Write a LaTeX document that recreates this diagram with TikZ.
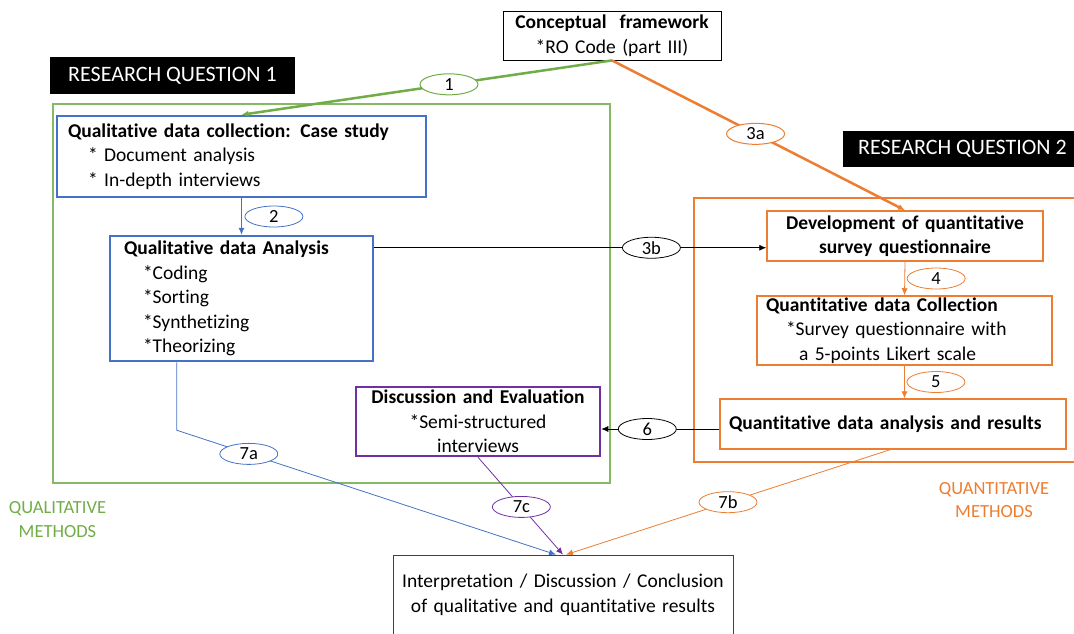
\documentclass[tikz,border=0pt]{standalone}
\usepackage{fontspec}
\setmainfont{Carlito}[Ligatures=NoCommon]
\usetikzlibrary{shapes.geometric,arrows.meta}

\definecolor{qlgreen}{HTML}{70AD47}
\definecolor{qlblue}{HTML}{4472C4}
\definecolor{qnorange}{HTML}{ED7D31}
\definecolor{dpurple}{HTML}{7030A0}

\tikzset{
  qbox/.style={draw, rectangle, inner sep=0pt, align=left,
    font=\fontsize{19.5}{24.5}\selectfont},
  rqbox/.style={fill=black, text=white, inner sep=0pt,
    font=\fontsize{22}{24}\selectfont},
  tag/.style={ellipse, draw, fill=white, minimum width=58pt,
    minimum height=21pt, inner sep=0pt, font=\fontsize{18.5}{20}\selectfont},
  arr/.style={-{Latex[length=7pt,width=6pt]}},
}

\begin{document}
\begin{tikzpicture}[x=1pt, y=-1pt]
    \useasboundingbox (0,0) rectangle (1074,633);

    % Method frames
    \draw[qlgreen!85, line width=1.5pt] (53,104) rectangle (610,483);
    \draw[qnorange, line width=1.5pt] (694,198) rectangle (1085,462);

    % Research questions
    \node[rqbox, minimum width=245pt, minimum height=37pt] (rq1) at (172.5,75.5) {RESEARCH QUESTION 1};
    \node[rqbox, minimum width=239pt, minimum height=36pt] (rq2) at (962.5,149) {RESEARCH QUESTION 2};

    % Framework
    \node[qbox, line width=0.8pt, align=center, text width=218pt, minimum height=49pt] (cf) at (612,35.5)
        {\textbf{Conceptual\ \ framework}\\{}*RO Code (part III)};

    % Qualitative side
    \node[qbox, draw=qlblue, line width=2.5pt, text width=369pt, minimum height=81pt] (coll) at (241.5,156.5)
        {\hspace*{11pt}\textbf{Qualitative data collection: Case study}\\
         \hspace*{31pt}* Document analysis\\
         \hspace*{31pt}* In-depth interviews};
    \node[qbox, draw=qlblue, line width=2.5pt, text width=263pt, minimum height=125pt] (ana) at (241.5,298.5)
        {\hspace*{14pt}\textbf{Qualitative data Analysis}\\
         \hspace*{33pt}*Coding\\
         \hspace*{33pt}*Sorting\\
         \hspace*{33pt}*Synthetizing\\
         \hspace*{33pt}*Theorizing};
    \node[qbox, draw=dpurple, line width=2.5pt, align=center, text width=244pt, minimum height=69pt] (disc) at (478,421.5)
        {\textbf{Discussion and Evaluation}\\{}*Semi-structured\\interviews};

    % Quantitative side
    \node[qbox, draw=qnorange, line width=1.5pt, align=center, text width=276pt, minimum height=50pt] (dev) at (905,236)
        {\textbf{Development of quantitative}\\\textbf{survey questionnaire}};
    \node[qbox, draw=qnorange, line width=1.5pt, text width=295pt, minimum height=69pt] (qdc) at (904.5,330.5)
        {\hspace*{9pt}\textbf{Quantitative data Collection}\\
         \hspace*{29pt}*Survey questionnaire with\\
         \hspace*{42pt}a 5-points Likert scale};
    \node[qbox, draw=qnorange, line width=1.5pt, text width=346pt, minimum height=50pt] (qan) at (893,424)
        {\hspace*{9pt}\textbf{Quantitative data analysis and results}};

    % Final results
    \node[qbox, draw=black!75, line width=0.8pt, align=center, text width=340pt, minimum height=80pt] (fin) at (563,595)
        {Interpretation / Discussion / Conclusion\\of qualitative and quantitative results};

    % Method labels
    \node[qlgreen, align=center, font=\fontsize{18.5}{23.5}\selectfont] (qlm) at (57.5,519.5) {QUALITATIVE\\METHODS};
    \node[qnorange, align=center, font=\fontsize{18.5}{23.5}\selectfont] (qnm) at (994,500) {QUANTITATIVE\\METHODS};

    % Connectors
    \draw[arr, qlgreen, line width=2.5pt] (cf.south) -- (coll.north)
        node[tag, draw=qlgreen, text=black, line width=1pt, pos=0.44] {1};
    \draw[arr, qnorange, line width=2.5pt] (cf.south) -- (dev.north)
        node[tag, draw=qnorange, text=black, line width=1pt, pos=0.49] {3a};
    \draw[arr, qlblue, line width=0.8pt] (coll.south) -- (ana.north)
        node[tag, draw=qlblue, text=black, anchor=west, xshift=3pt, midway] {2};
    \draw[arr, line width=0.8pt] ([yshift=-13pt]ana.north east) -- ([yshift=-13pt]ana.north east -| dev.west)
        node[tag, pos=0.707] {3b};
    \draw[arr, qnorange, line width=0.8pt] (dev.south) -- (qdc.north)
        node[tag, draw=qnorange, text=black, anchor=west, xshift=2pt, midway] {4};
    \draw[arr, qnorange, line width=0.8pt] (qdc.south) -- (qdc.south |- qan.north)
        node[tag, draw=qnorange, text=black, anchor=west, xshift=2pt, midway] {5};
    \draw[arr, line width=0.8pt] ([yshift=-5pt]qan.west) -- ([yshift=-5pt]qan.west -| disc.east)
        node[tag, pos=0.61] {6};
    \draw[arr, qlblue, line width=0.8pt] ([xshift=68pt]ana.south west) -- ++(0,68)
        -- ([xshift=-7pt]fin.north)
        node[tag, draw=qlblue, text=black, pos=0.19] {7a};
    \draw[arr, dpurple, line width=0.8pt] (disc.south) -- (fin.north)
        node[tag, draw=dpurple, text=black, pos=0.51] {7c};
    \draw[arr, qnorange, line width=0.8pt] ([xshift=-3pt]qan.south) -- ([xshift=3pt]fin.north)
        node[tag, draw=qnorange, text=black, pos=0.5] {7b};

\end{tikzpicture}
\end{document}
